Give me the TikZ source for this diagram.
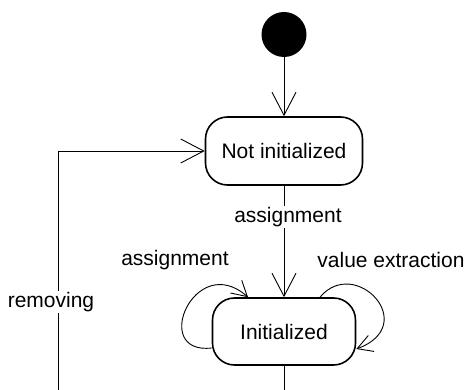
\documentclass[tikz,border=0pt]{standalone}
\usepackage{fontspec}
\setmainfont{Liberation Sans}
\usetikzlibrary{arrows.meta}

\tikzset{
  state/.style={draw, line width=1.6pt, rounded corners=22pt, minimum height=68pt, inner sep=0pt},
  flow/.style={line width=0.9pt, -{Straight Barb[length=23pt,width=24pt,line width=0.9pt]}},
  selfflow/.style={line width=0.9pt, -{Straight Barb[length=15pt,width=17pt,line width=0.9pt]}},
  lbl/.style={fill=white, inner sep=1pt}
}

\begin{document}
\begin{tikzpicture}[x=1pt,y=-1pt,font=\fontsize{21}{25}\selectfont]
\clip (0,0) rectangle (466,390);
\node [circle, fill=black, minimum size=45pt, inner sep=0pt] (start) at (284,34.5) {};
\node [state, minimum width=157pt] (notinit) at (284,151) {Not initialized};
\node [state, minimum width=143pt, minimum height=67pt] (init) at (284,331.5) {Initialized};
\coordinate (leftend) at (58,400);
\coordinate (downend) at (284,400);

\draw [flow] (start) -- (notinit);
\draw [flow] (notinit) -- (init);
\draw [flow] (leftend) |- (notinit.west);
\draw [line width=0.9pt] (init) -- (downend);
\draw [selfflow] ([shift={(0,16.5)}]init.west) .. controls +(-62,7) and +(-53,-47) .. ([shift={(-36,0)}]init.north);
\draw [selfflow] ([shift={(36,0)}]init.north) .. controls +(35,-42) and +(65,-24) .. ([shift={(0,17.5)}]init.east);

\node [lbl] (assignmain) at (288,217) {assignment};
\node (assignself) at (175,260) {assignment};
\node (extract) at (391,260) {value extraction};
\node [lbl] (removing) at (51,302) {removing};
\end{tikzpicture}
\end{document}
